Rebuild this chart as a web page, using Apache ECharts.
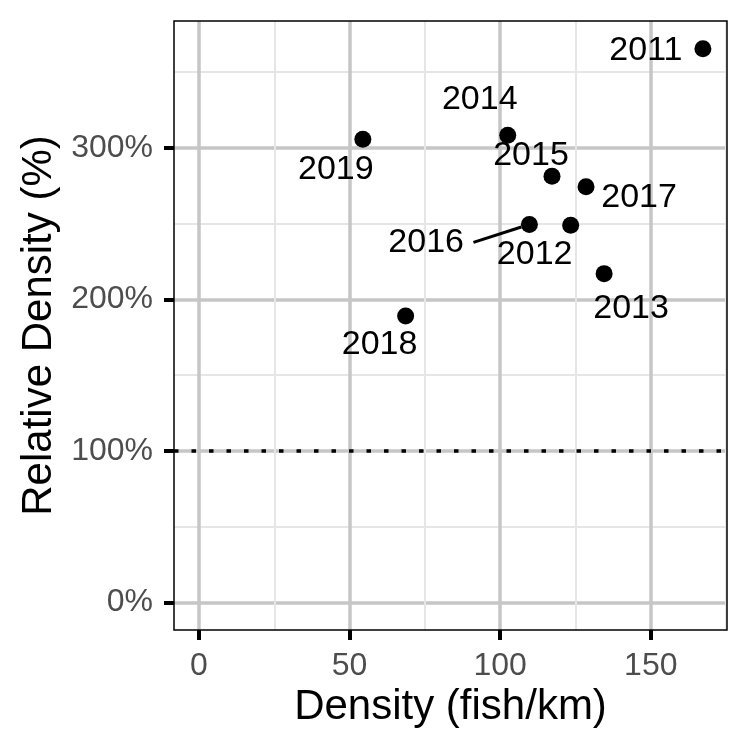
<!DOCTYPE html>
<html><head><meta charset="utf-8">
<script src="https://cdn.jsdelivr.net/npm/echarts@6/dist/echarts.min.js"></script>
<style>html,body{margin:0;padding:0;background:#fff}#c{width:750px;height:750px}</style>
</head><body><div id="c"></div>
<script>
// ---- data ----
const years = ['2011', '2012', '2013', '2014', '2015', '2016', '2017', '2018', '2019'];
const density = [167.3, 123.4, 134.5, 102.5, 117.2, 109.7, 128.5, 68.6, 54.4];
const relDensity = [365.5, 249.0, 217.0, 308.4, 281.3, 249.5, 274.3, 189.0, 305.7];
const xTicks = [0, 50, 100, 150];
const yTicks = [0, 100, 200, 300];
const refLine = 100;
const xTitle = 'Density (fish/km)';
const yTitle = 'Relative Density (%)';

// ---- layout (label placement, pixels) ----
const labelOffsets = [[-57, 2], [-36, 29], [27, 35], [-28, -36], [-21, -21], [-98.5, 18], [53, 11], [-26, 29], [-27, 30]];
const connectorYear = '2016';

const FONT = 'Liberation Sans';
const chart = echarts.init(document.getElementById('c'), null, {renderer: 'canvas'});

const seriesData = years.map((y, i) => {
  const item = {name: y, value: [density[i], relDensity[i]]};
  if (y === connectorYear) {
    item.labelLine = {show: true, lineStyle: {color: '#000', width: 3, opacity: 1}};
  }
  return item;
});

const option = {
  animation: false,
  backgroundColor: '#fff',
  textStyle: {fontFamily: FONT},
  grid: {left: 174, top: 21, width: 553, height: 609, show: true, borderColor: '#000', borderWidth: 1.5, z: 10, backgroundColor: 'transparent'},
  xAxis: {
    type: 'value', min: -8.3, max: 175.3, minInterval: 50, maxInterval: 50,
    name: xTitle, nameLocation: 'middle', nameGap: 56,
    nameTextStyle: {fontSize: 42, color: '#000', fontFamily: FONT},
    axisLine: {show: false, onZero: false},
    axisTick: {show: true, inside: false, length: 10, customValues: xTicks, lineStyle: {color: '#000', width: 4}},
    axisLabel: {customValues: xTicks, color: '#4d4d4d', fontSize: 32, margin: 20, fontFamily: FONT},
    splitLine: {show: true, lineStyle: {color: '#c6c6c6', width: 3.5}},
    minorTick: {show: false, splitNumber: 2},
    minorSplitLine: {show: true, lineStyle: {color: '#e6e6e6', width: 2}}
  },
  yAxis: {
    type: 'value', min: -18.3, max: 383.8, minInterval: 100, maxInterval: 100,
    name: yTitle, nameLocation: 'middle', nameGap: 104,
    nameTextStyle: {fontSize: 42, color: '#000', fontFamily: FONT},
    axisLine: {show: false, onZero: false},
    axisTick: {show: true, inside: false, length: 10, customValues: yTicks, lineStyle: {color: '#000', width: 4}},
    axisLabel: {customValues: yTicks, color: '#4d4d4d', fontSize: 32, margin: 21, fontFamily: FONT, formatter: '{value}%'},
    splitLine: {show: true, lineStyle: {color: '#c6c6c6', width: 3.5}},
    minorTick: {show: false, splitNumber: 2},
    minorSplitLine: {show: true, lineStyle: {color: '#e6e6e6', width: 2}}
  },
  series: [{
    type: 'scatter',
    symbol: 'circle',
    symbolSize: 17,
    itemStyle: {color: '#000', opacity: 1},
    data: seriesData,
    label: {
      show: true, position: 'inside', color: '#000', opacity: 1, fontSize: 34, fontFamily: FONT,
      formatter: function (p) { return p.name === connectorYear ? p.name + ' ' : p.name; }
    },
    labelLine: {show: false},
    labelLayout: function (p) {
      const o = labelOffsets[p.dataIndex];
      return {dx: o[0], dy: o[1]};
    },
    markLine: {
      silent: true,
      symbol: ['none', 'none'],
      label: {show: false},
      lineStyle: {color: '#000', type: [4.5, 13], width: 3.5, opacity: 1},
      data: [{yAxis: refLine}]
    }
  }]
};
chart.setOption(option);
</script>
</body></html>
